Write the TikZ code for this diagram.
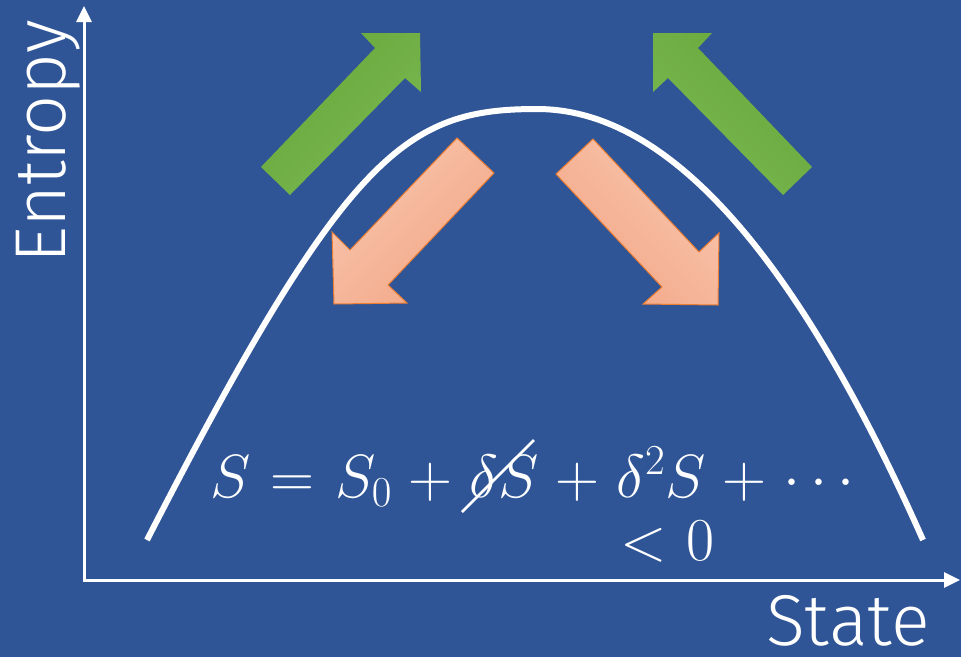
\RequirePackage{fix-cm}
\documentclass[tikz,border=0pt]{standalone}
\usepackage{fontspec}
\newfontfamily\axisfont{Fira Sans Light}
\usetikzlibrary{arrows.meta}

\definecolor{slideblue}{RGB}{47,85,151}
\definecolor{growgreen}{RGB}{103,168,58}
\definecolor{growgreenlight}{RGB}{122,183,82}
\definecolor{decaysalmon}{RGB}{243,166,134}
\definecolor{decaysalmonlight}{RGB}{248,198,174}
\definecolor{decayedge}{RGB}{237,125,49}

\begin{document}
\begin{tikzpicture}[
    x=1pt, y=-1pt,
    axisline/.style={draw=white, line width=3pt, -{Triangle[length=16pt, width=15pt]}},
    axislabel/.style={text=white, inner sep=0pt, font=\axisfont\fontsize{72}{78}\selectfont},
    mathlabel/.style={text=white, inner sep=0pt, font={\fontsize{61}{66}\selectfont\medmuskip=5mu\thickmuskip=6mu}},
    curveline/.style={draw=white, line width=6pt},
    growarrow/.style={top color=growgreen, bottom color=growgreenlight, shading angle=#1},
    decayarrow/.style={draw=decayedge, line width=1pt, top color=decaysalmonlight, bottom color=decaysalmon, shading angle=#1},
]
    % background
    \fill[slideblue] (0,0) rectangle (961,657);
    \useasboundingbox (0,0) rectangle (961,657);

    % axes
    \coordinate (origin) at (84,580);
    \coordinate (ytip) at (84,6);
    \coordinate (xtip) at (960,580);
    \draw[axisline, shorten <=-1.5pt] (origin) -- (ytip);
    \draw[axisline, shorten <=-1.5pt] (origin) -- (xtip);
    \node[axislabel, rotate=90, anchor=base west] (entropy) at (65,264) {Entropy};
    \node[axislabel, anchor=base east] (state) at (930,645) {State};

    % entropy curve
    \coordinate (curvestart) at (147,540);
    \coordinate (curvetop) at (537,109);
    \coordinate (curveend) at (923,540);
    \draw[curveline] (curvestart) .. controls (347,150) and (407,109) .. (curvetop)
        .. controls (642,109) and (773,202) .. (curveend);

    % arrows away from the maximum
    \path[growarrow=45] (261,167) -- (375,48) -- (361,33) -- (420,33)
        -- (421,92) -- (405,78) -- (290,195) -- cycle;
    \path[growarrow=-45] (812,167) -- (698,48) -- (712,33) -- (653,33)
        -- (653,92) -- (668,78) -- (783,195) -- cycle;

    % arrows back to the maximum
    \path[decayarrow=45] (457,138) -- (494,173) -- (388,285) -- (407,303)
        -- (334,304) -- (332,232) -- (350,250) -- cycle;
    \path[decayarrow=-45] (593,139) -- (556,174) -- (662,287) -- (643,304)
        -- (718,305) -- (719,233) -- (699,252) -- cycle;

    % expansion
    \node[mathlabel, anchor=base west] (expansion) at (210,497)
        {$S = S_0 + \delta S + \delta^2 S + \cdots$};
    \node[mathlabel, anchor=base west] (negative) at (620,560) {$< 0$};
    \coordinate (strikefrom) at (462,512);
    \coordinate (striketo) at (534,440);
    \draw[white, line width=2.5pt] (strikefrom) -- (striketo);
\end{tikzpicture}
\end{document}
